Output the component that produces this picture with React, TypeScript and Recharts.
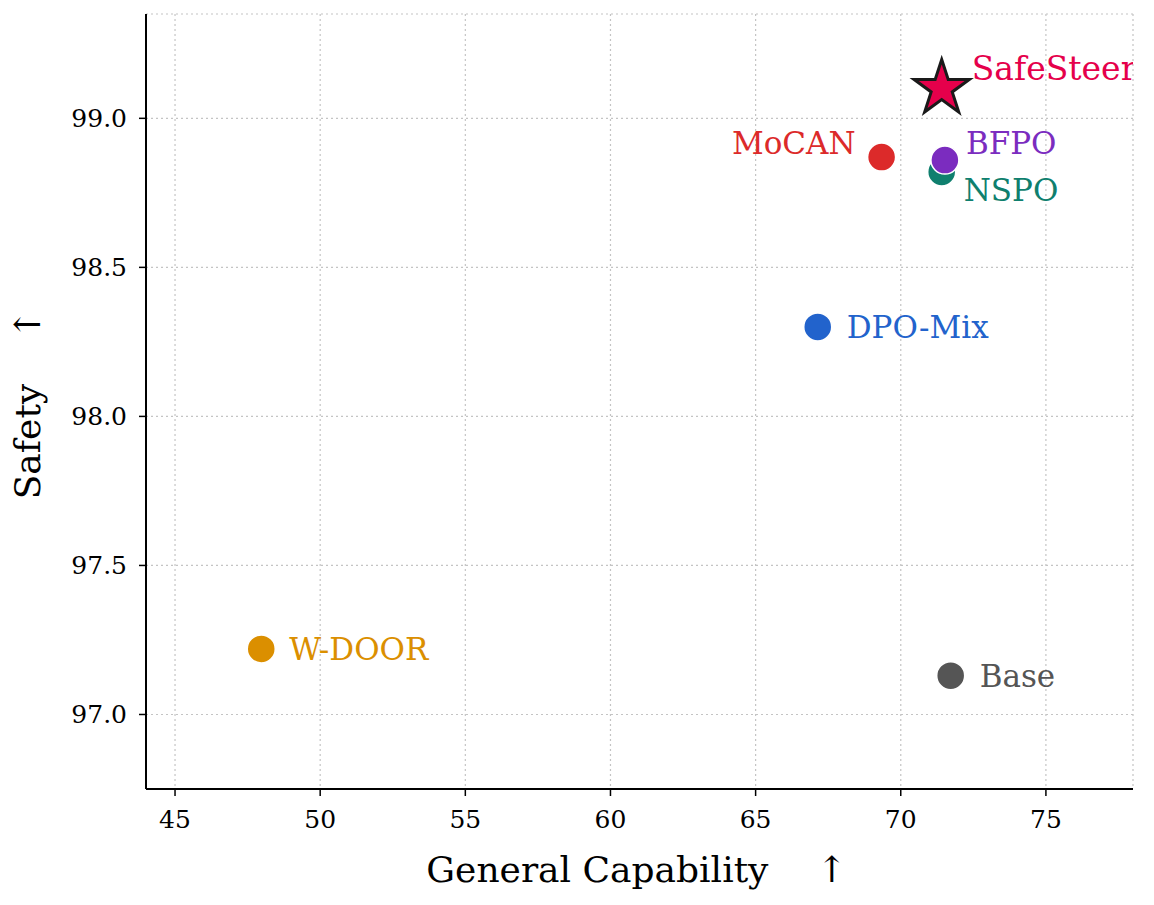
import { ScatterChart, Scatter, XAxis, YAxis, CartesianGrid, Label } from 'recharts'

const methods = ['W-DOOR', 'DPO-Mix', 'MoCAN', 'NSPO', 'BFPO', 'Base', 'SafeSteer']
const capability = [47.97, 67.14, 69.34, 71.41, 71.52, 71.72, 71.41]
const safety = [97.22, 98.3, 98.87, 98.82, 98.86, 97.13, 99.1]
const colors = ['#db8f00', '#2263cc', '#dc2a2a', '#0f7f6e', '#7b2cbf', '#555555', '#e5004b']
const xTicks = [45, 50, 55, 60, 65, 70, 75]
const yTicks = [97.0, 97.5, 98.0, 98.5, 99.0]

const FONT = '"DejaVu Serif", serif'

// where each name sits relative to its marker
const labelPlacement: Record<string, { dx: number; dy: number; anchor: 'start' | 'end' }> = {
  'W-DOOR': { dx: 28, dy: 0, anchor: 'start' },
  'DPO-Mix': { dx: 29, dy: 0, anchor: 'start' },
  MoCAN: { dx: -26, dy: -14, anchor: 'end' },
  NSPO: { dx: 22, dy: 18, anchor: 'start' },
  BFPO: { dx: 21, dy: -17, anchor: 'start' },
  Base: { dx: 29, dy: 0, anchor: 'start' },
  SafeSteer: { dx: 30, dy: -20, anchor: 'start' },
}

const starPoints = (cx: number, cy: number, r: number) => {
  const inner = r * 0.382
  const pts: string[] = []
  for (let i = 0; i < 10; i++) {
    const rad = i % 2 === 0 ? r : inner
    const a = -Math.PI / 2 + (i * Math.PI) / 5
    pts.push(`${cx + rad * Math.cos(a)},${cy + rad * Math.sin(a)}`)
  }
  return pts.join(' ')
}

const makeShape = (name: string, color: string, star: boolean) => (props: any) => {
  const { cx, cy } = props
  const p = labelPlacement[name]
  return (
    <g>
      {star ? (
        <polygon points={starPoints(cx, cy, 29)} fill={color} stroke="#1a1a1a" strokeWidth={3} strokeLinejoin="miter" />
      ) : (
        <circle cx={cx} cy={cy} r={14} fill={color} stroke="#fff" strokeWidth={1.5} />
      )}
      <text x={cx + p.dx} y={cy + p.dy} dy="0.35em" textAnchor={p.anchor} fill={color}
        fontFamily={FONT} fontSize={star ? 33 : 31}>
        {name}
      </text>
    </g>
  )
}

const XTitle = ({ viewBox }: any) => {
  const cx = viewBox.x + viewBox.width / 2 - 3
  return (
    <text x={cx} y={viewBox.y + 93} textAnchor="middle" fontFamily={FONT} fontSize={36} fill="#000">
      <tspan>General Capability</tspan>
      <tspan dx={48}>↑</tspan>
    </text>
  )
}

const YTitle = ({ viewBox }: any) => {
  const x = viewBox.x - 6
  const y = viewBox.y + viewBox.height / 2 + 3
  return (
    <text x={x} y={y} transform={`rotate(-90 ${x} ${y})`} textAnchor="middle" fontFamily={FONT} fontSize={36} fill="#000">
      <tspan>Safety</tspan>
      <tspan dx={44}>↑</tspan>
    </text>
  )
}

export default function App() {
  const series = methods.map((m, i) => ({ name: m, color: colors[i], data: [{ x: capability[i], y: safety[i] }] }))
  const tickStyle = { fontFamily: FONT, fontSize: 25, fill: '#000' }

  return (
    <div style={{ position: 'absolute', left: 0, top: 0, background: '#fff' }}>
      <ScatterChart width={1154} height={905} margin={{ top: 14, right: 21, left: 46, bottom: 56 }}>
        <CartesianGrid stroke="#c4c4c4" strokeWidth={1.2} strokeDasharray="2 3" />
        <XAxis type="number" dataKey="x" domain={[44, 78]} ticks={xTicks} height={60}
          axisLine={{ stroke: '#000', strokeWidth: 2 }} tickLine={{ stroke: '#000', strokeWidth: 1.5 }}
          tickSize={7} tickMargin={14} tick={tickStyle} allowDataOverflow>
          <Label content={<XTitle />} />
        </XAxis>
        <YAxis type="number" dataKey="y" domain={[96.75, 99.35]} ticks={yTicks} width={100}
          axisLine={{ stroke: '#000', strokeWidth: 2 }} tickLine={{ stroke: '#000', strokeWidth: 1.5 }}
          tickSize={7} tickMargin={12} tick={tickStyle} tickFormatter={(v: number) => v.toFixed(1)} allowDataOverflow>
          <Label content={<YTitle />} />
        </YAxis>
        {series.map(s => (
          <Scatter key={s.name} name={s.name} data={s.data} fill={s.color}
            shape={makeShape(s.name, s.color, s.name === 'SafeSteer')} isAnimationActive={false} />
        ))}
      </ScatterChart>
    </div>
  )
}
